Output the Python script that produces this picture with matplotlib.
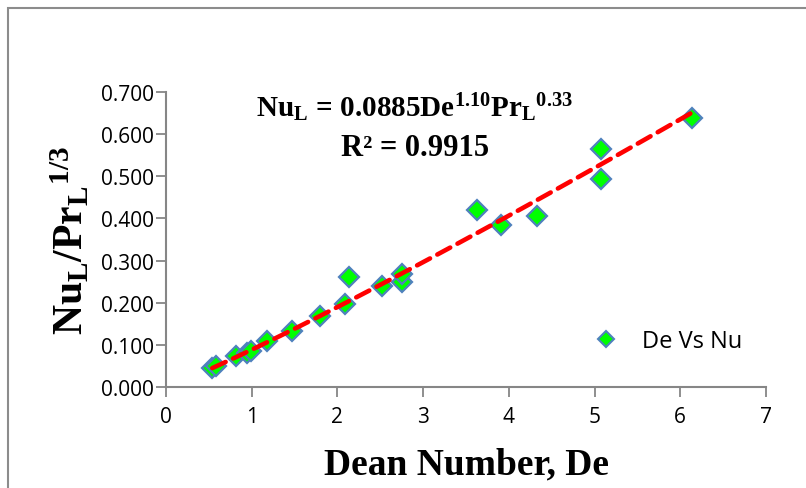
import numpy as np
import matplotlib
matplotlib.use("Agg")
import matplotlib.pyplot as plt
from matplotlib.patches import Rectangle
from matplotlib.lines import Line2D

# Dean number vs. normalised Nusselt number
dean = [0.54, 0.58, 0.82, 0.94, 0.99, 1.18, 1.47, 1.80, 2.09, 2.13,
        2.52, 2.75, 2.75, 3.63, 3.91, 4.33, 5.07, 5.07, 6.14]
nu_pr = [0.045, 0.050, 0.074, 0.080, 0.086, 0.109, 0.133, 0.168, 0.197, 0.260,
         0.240, 0.250, 0.268, 0.420, 0.385, 0.405, 0.565, 0.493, 0.638]

# power-law correlation
coef = 0.0885
expo = 1.10

x_ticks = [0, 1, 2, 3, 4, 5, 6, 7]
y_ticks = [0.0, 0.1, 0.2, 0.3, 0.4, 0.5, 0.6, 0.7]

plt.rcParams["mathtext.fontset"] = "custom"
plt.rcParams["mathtext.rm"] = "Liberation Serif"
plt.rcParams["mathtext.bf"] = "Liberation Serif:bold"
plt.rcParams["mathtext.it"] = "Liberation Serif:italic"

tick_font = "Open Sans"
serif = "Liberation Serif"

fig = plt.figure(figsize=(8.06, 4.89), dpi=100)
fig.patch.set_facecolor("white")

# chart-area border
fig.patches.append(Rectangle((8 / 806, -0.1), 1.2, 1 - 9 / 489 + 0.1,
                             transform=fig.transFigure, fill=False,
                             edgecolor="#8c8c8c", linewidth=1.5))

ax = fig.add_axes([166 / 806, 1 - 388 / 489, 600 / 806, 295 / 489])
ax.set_xlim(0, 7)
ax.set_ylim(0, 0.7)

xf = np.linspace(min(dean), max(dean), 100)
ax.plot(xf, coef * xf ** expo, color="#ff0000", linewidth=3.3,
        linestyle=(0, (3.2, 1.8)), dash_capstyle="round", zorder=3)
ax.plot(dean, nu_pr, linestyle="none", marker="D", markersize=10.5,
        markerfacecolor="#00ff00", markeredgecolor="#4f81bd",
        markeredgewidth=1.6, zorder=2)

for side in ("top", "right"):
    ax.spines[side].set_visible(False)
for side in ("left", "bottom"):
    ax.spines[side].set_color("#868686")
    ax.spines[side].set_linewidth(1.5)

ax.set_xticks(x_ticks)
ax.set_yticks(y_ticks)
ax.set_yticklabels([f"{v:.3f}" for v in y_ticks])
ax.tick_params(axis="both", direction="out", length=7, width=1.3,
               color="#868686", labelsize=15)
ax.tick_params(axis="x", pad=7)
ax.tick_params(axis="y", pad=2)
for lab in ax.get_xticklabels() + ax.get_yticklabels():
    lab.set_fontfamily(tick_font)

ax.set_xlabel("Dean Number, De", fontfamily=serif, fontweight="bold",
              fontsize=27, labelpad=14)
ax.set_ylabel(r"$\mathbf{Nu_L/Pr_L}^{\mathbf{1/3}}$", fontsize=30, labelpad=6)

ax.text(0.415, 0.95,
        r"$\mathbf{Nu_L\,=\,0.0885De^{1.10}Pr_L}^{\mathbf{0.33}}$",
        transform=ax.transAxes, ha="center", va="center", fontsize=21)
ax.text(0.415, 0.812, "R² = 0.9915", transform=ax.transAxes, ha="center",
        va="center", fontsize=22, fontfamily=serif, fontweight="bold")

handle = Line2D([], [], linestyle="none", marker="D", markersize=8.5,
                markerfacecolor="#00ff00", markeredgecolor="#4f81bd",
                markeredgewidth=1.5)
leg = ax.legend([handle], ["De Vs Nu"], loc="center left",
                bbox_to_anchor=(0.658, 0.155), frameon=False,
                prop={"family": tick_font, "size": 17}, handletextpad=0.55)

fig.savefig("out.png", dpi=100, facecolor="white")
